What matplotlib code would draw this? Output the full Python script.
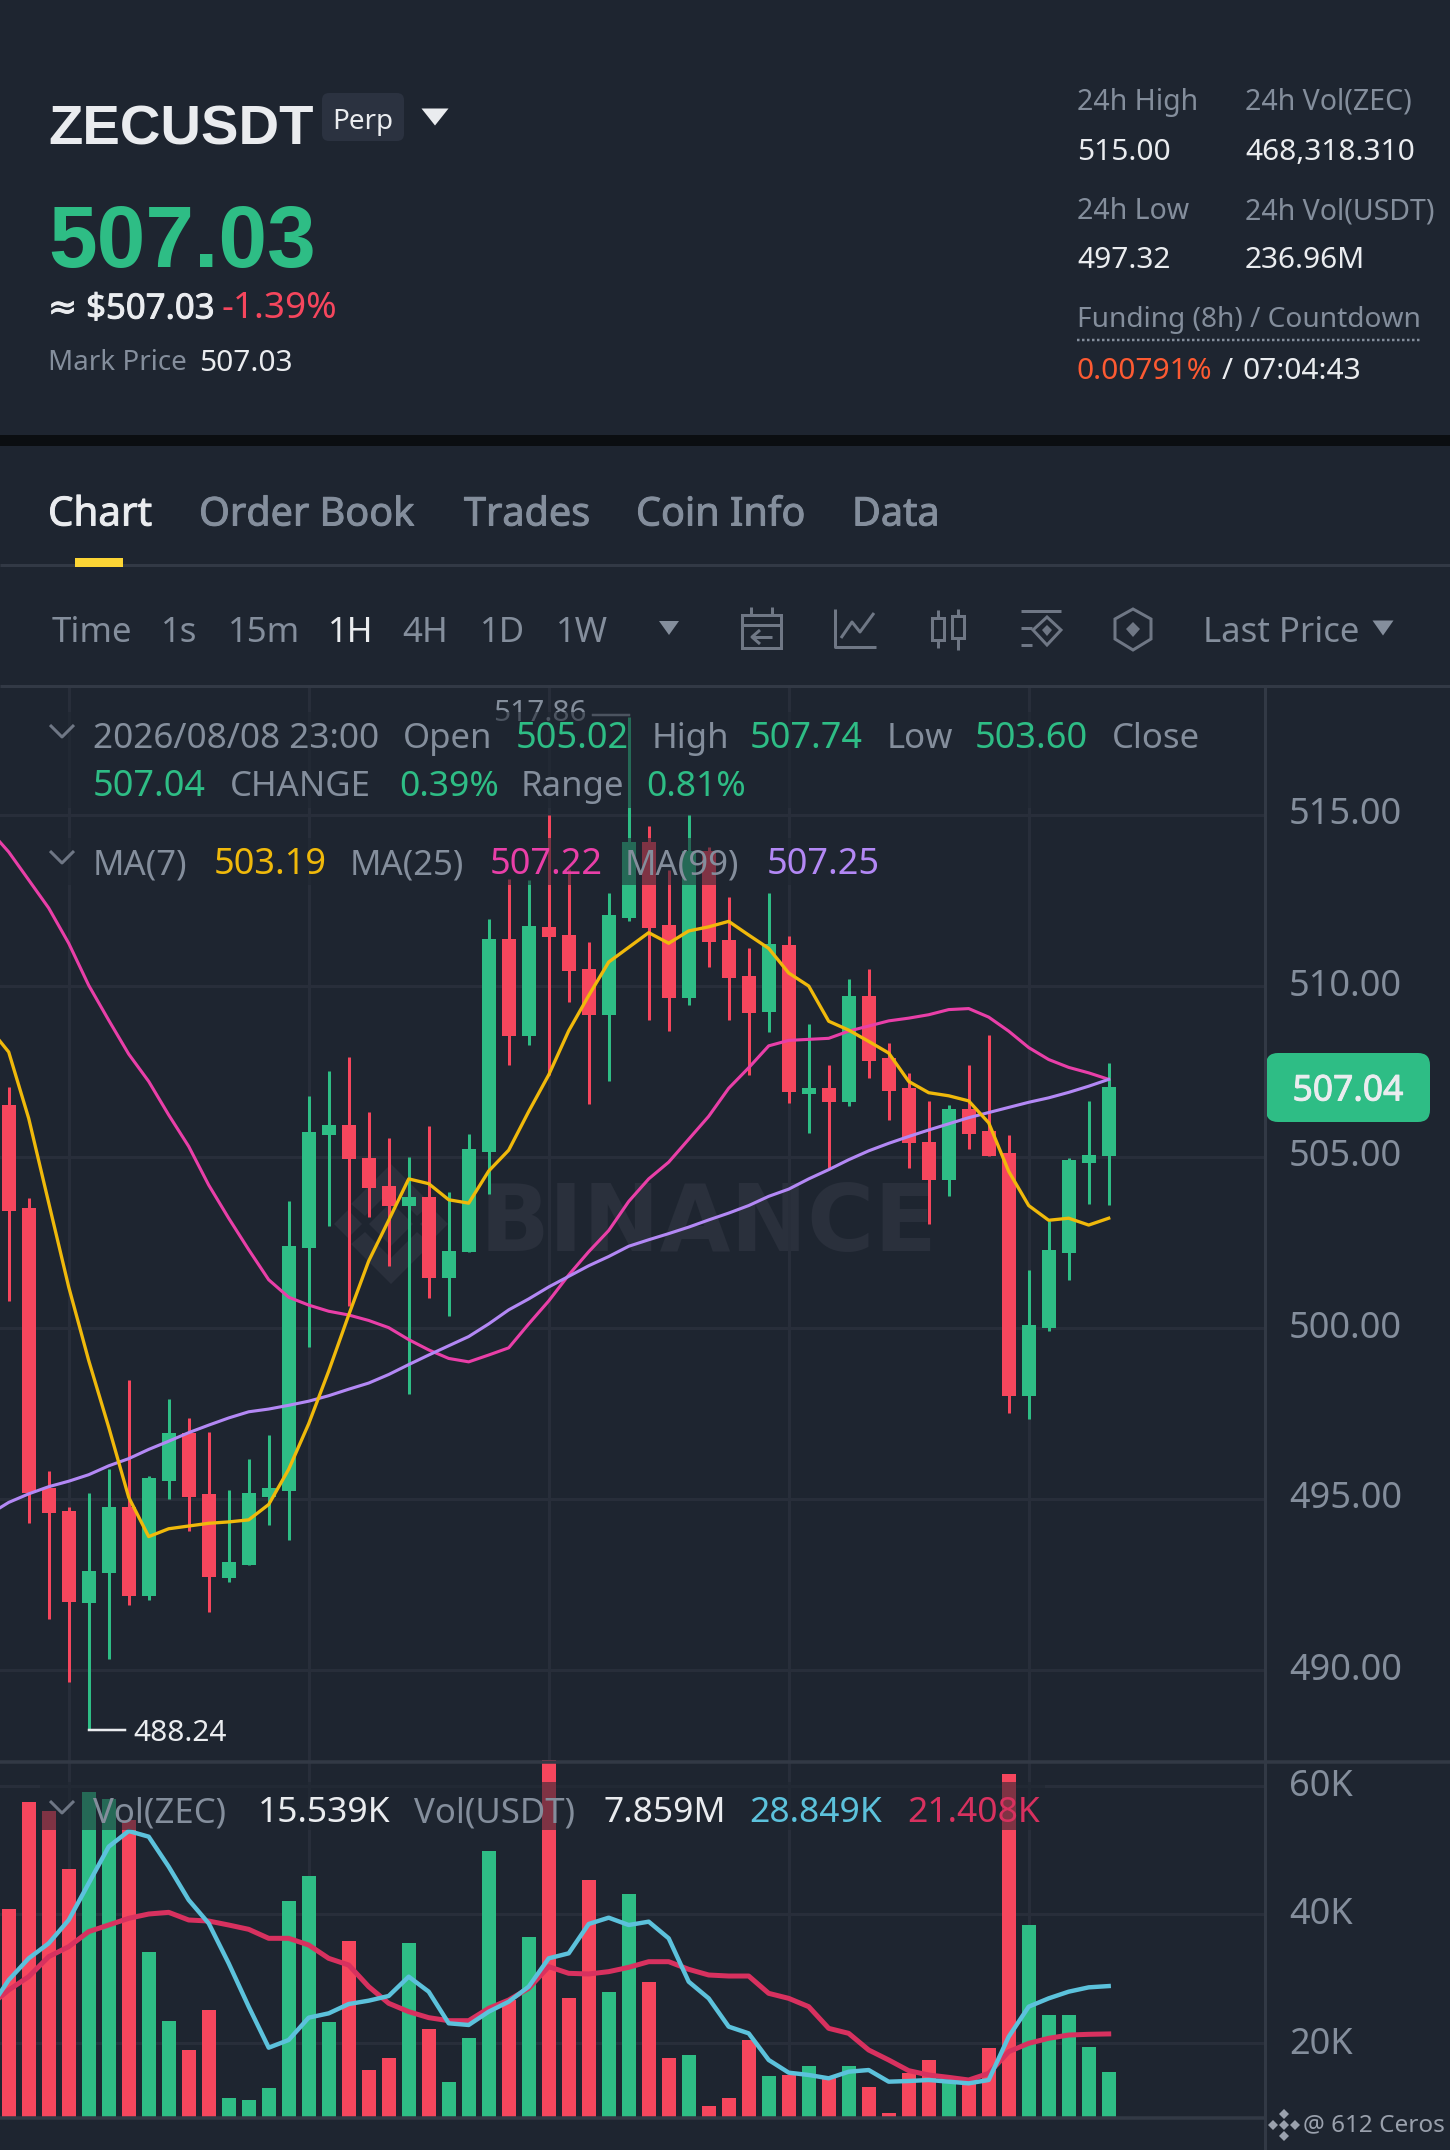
import numpy as np
import matplotlib
matplotlib.use("Agg")
import matplotlib.pyplot as plt
import matplotlib.patheffects as pe
from matplotlib.patches import Rectangle, FancyBboxPatch, Polygon

plt.rcParams['font.family'] = ['Noto Sans', 'DejaVu Sans']

# ---- data ----
opens = [506.52,503.50,495.32,494.64,491.97,492.83,494.78,492.16,495.52,496.92,495.15,492.69,493.08,495.07,
         495.23,502.33,505.63,505.94,504.98,504.16,503.58,503.83,501.45,502.21,505.16,511.36,508.53,511.73,
         511.50,510.50,509.16,511.99,514.20,511.79,509.65,513.95,511.35,510.30,509.24,511.20,506.85,507.01,
         506.62,509.71,507.89,507.01,505.45,504.34,506.41,505.76,505.12,498.00,500.00,502.18,504.83,505.02]
highs = [507.05,503.81,495.83,494.78,495.19,495.87,498.48,495.66,497.92,497.37,496.96,495.25,496.18,496.88,
         503.70,506.78,507.52,507.93,506.31,505.55,505.00,505.90,503.99,505.68,511.97,513.12,513.10,515.00,
         513.41,511.30,512.71,517.86,514.68,513.40,515.00,514.05,512.59,511.10,512.71,511.46,508.90,507.70,
         510.20,510.50,508.34,507.47,506.65,506.53,507.68,508.58,505.64,501.69,503.13,504.98,506.65,507.74]
lows = [500.79,494.29,491.50,489.65,488.24,490.31,491.91,492.04,494.99,494.05,491.71,492.57,493.08,494.25,
        493.80,499.44,502.99,500.63,503.24,501.82,498.06,500.87,500.36,502.21,503.91,507.69,508.28,507.40,
        509.53,506.54,507.22,511.89,509.01,508.68,509.43,510.55,509.01,507.40,508.65,506.58,505.71,504.67,
        506.50,507.30,506.09,504.69,503.04,503.85,505.24,505.04,497.52,497.33,499.91,501.40,503.63,503.60]
closes = [503.42,495.19,494.58,491.99,492.89,494.78,492.16,495.60,496.92,495.07,492.71,493.16,495.17,495.32,
          502.41,505.74,505.94,504.94,504.10,503.58,503.83,501.45,502.25,505.22,511.36,508.55,511.75,511.44,
          510.43,509.16,512.07,514.20,511.70,509.65,513.95,511.28,510.22,509.22,511.22,506.91,507.01,506.62,
          509.71,507.82,506.92,505.40,504.34,506.41,505.67,505.04,498.00,500.10,502.27,504.92,505.06,507.04]
# moving averages start one candle left of the visible window
ma7 = [508.79,508.07,506.13,503.66,501.20,499.05,497.10,495.05,493.90,494.13,494.21,494.29,494.33,494.39,494.84,
       495.87,497.20,498.74,500.38,501.96,503.15,504.36,504.22,503.75,503.65,504.59,505.20,506.33,507.40,508.69,
       509.72,510.70,511.13,511.56,511.25,511.61,511.73,511.89,511.49,511.10,510.38,510.00,508.97,508.71,508.38,
       508.04,507.21,506.88,506.79,506.64,506.00,504.58,503.58,503.15,503.21,503.01,503.21]
ma25 = [514.58,513.92,513.10,512.28,511.25,510.02,509.00,508.01,507.21,506.23,505.31,504.18,503.21,502.29,501.41,
        500.90,500.67,500.49,500.38,500.22,500.01,499.66,499.36,499.11,499.01,499.21,499.42,500.12,500.79,501.55,
        502.23,502.85,503.70,504.36,504.85,505.52,506.19,507.01,507.61,508.25,508.41,508.44,508.47,508.68,508.83,
        508.98,509.06,509.16,509.31,509.34,509.09,508.68,508.20,507.85,507.62,507.46,507.27]
ma99 = [494.54,494.90,495.15,495.36,495.52,495.71,495.97,496.18,496.45,496.69,496.94,497.16,497.37,497.55,497.63,
        497.74,497.86,498.02,498.21,498.39,498.64,498.93,499.21,499.48,499.75,500.12,500.53,500.85,501.20,501.51,
        501.82,502.09,502.39,502.58,502.76,502.95,503.16,503.36,503.58,503.85,504.06,504.36,504.63,504.92,505.18,
        505.40,505.60,505.79,505.97,506.15,506.30,506.45,506.60,506.73,506.89,507.07,507.27]
volumes = [40.78,57.46,56.06,47.05,58.96,57.93,54.66,34.09,23.47,18.91,25.13,11.45,11.09,13.00,42.12,45.96,23.21,
           35.85,15.75,17.62,35.54,22.12,13.94,20.78,49.84,26.68,36.42,64.00,26.94,45.28,27.88,43.11,29.43,17.67,
           18.08,10.26,11.40,20.47,14.87,15.03,16.37,14.51,16.48,13.11,9.07,15.39,17.36,13.99,14.51,19.17,61.76,
           38.34,24.35,24.35,19.43,15.54]
vol_ma_fast = [25.13,29.79,33.16,35.49,39.12,44.82,50.52,52.95,52.07,47.41,42.23,38.60,32.38,25.65,19.27,20.47,
               23.94,24.61,26.06,26.58,27.31,30.31,27.98,23.06,22.80,24.87,26.42,28.76,33.16,33.94,38.50,39.48,
               38.34,38.86,36.27,29.53,26.94,22.54,21.50,17.36,15.39,15.03,14.51,15.54,15.80,13.99,14.09,14.25,
               13.99,13.73,14.25,20.98,25.65,26.94,27.98,28.65,28.85]
vol_ma_slow = [25.65,28.24,30.31,33.42,34.97,37.31,38.34,39.38,40.05,40.31,39.12,38.96,38.34,37.67,36.27,36.27,
               35.23,33.16,32.12,28.76,26.17,24.87,23.94,23.47,23.47,25.39,26.68,28.50,31.87,30.83,30.73,31.09,
               31.76,32.64,32.64,31.45,30.57,30.41,30.41,27.72,26.94,25.65,22.28,21.50,18.91,17.36,15.70,15.03,
               14.66,14.25,15.28,18.65,19.95,20.73,21.24,21.35,21.41]
price_ticks = [515, 510, 505, 500, 495, 490]
price_tick_labels = ['515.00', '510.00', '505.00', '500.00', '495.00', '490.00']
vol_ticks = [60, 40, 20]
vol_tick_labels = ['60K', '40K', '20K']
time_grid = [3, 15, 27, 39, 51]

# ---- colours ----
BG = '#1e2530'; GRID = '#282e3a'; LINE = '#323945'; GREY = '#848e9c'; WHITE = '#eaecef'
UP = '#2ebd85'; DOWN = '#f6465d'; YEL = '#f0b90b'; PINK = '#e93fa8'; PUR = '#b388f5'
BLUE = '#5cc2dc'; CRIM = '#d8315f'; SOFT = '#9aa1ad'

W, H = 1450, 2150
fig = plt.figure(figsize=(W/100, H/100), dpi=100, facecolor=BG)
PX = 72/100
TEXT_DY = 3.5

def axes_px(l, t, r, b, **kw):
    return fig.add_axes([l/W, 1-b/H, (r-l)/W, (b-t)/H], **kw)

def x_of(px):
    return (px-8.7)/20

# ---- exchange watermark, behind every mark ----
wm = fig.add_axes([0, 0, 1, 1])
wm.set_xlim(0, W); wm.set_ylim(H, 0)
wm.patch.set_visible(False); wm.axis('off')
WM = '#2a303c'
wm.text(480, 1225, 'BINANCE', color=WM, fontsize=66, fontweight='bold', family='DejaVu Sans', va='center')
for cx, cy, r in [(391, 1224, 22), (348, 1224, 14), (434, 1224, 14)]:
    wm.add_patch(Polygon([[cx, cy-r], [cx+r, cy], [cx, cy+r], [cx-r, cy]], closed=True, fc=WM, ec='none'))
for sgn in (-1, 1):
    wm.add_patch(Polygon([[391, 1224+sgn*60], [431, 1224+sgn*20], [417, 1224+sgn*8], [391, 1224+sgn*34],
                          [365, 1224+sgn*8], [351, 1224+sgn*20]], closed=True, fc=WM, ec='none'))

# ---- price panel ----
ax = axes_px(0, 686, 1265, 1762)
ax.set_xlim(x_of(0), x_of(1265))
ax.set_ylim(515-(1762-815)/34.2, 515+(815-686)/34.2)
ax.patch.set_visible(False)
ax.axis('off')
idx = np.arange(len(opens))
ma_x = np.arange(-1, len(opens))
for p in price_ticks:
    ax.axhline(p, color=GRID, lw=3*PX, zorder=1)
for t in time_grid:
    ax.axvline(t, color=GRID, lw=3*PX, zorder=1)
o, h_, l_, c = map(np.array, (opens, highs, lows, closes))
cols = [UP if a >= b else DOWN for a, b in zip(c, o)]
ax.vlines(idx, l_, h_, colors=cols, lw=3*PX, zorder=3)
ax.bar(idx, np.abs(c-o), bottom=np.minimum(o, c), width=0.7, color=cols, zorder=3, linewidth=0)
ax.plot(ma_x, ma25, color=PINK, lw=3.1*PX, zorder=4)
ax.plot(ma_x, ma99, color=PUR, lw=3.1*PX, zorder=4)
ax.plot(ma_x, ma7, color=YEL, lw=3.3*PX, zorder=5)
imax = int(np.argmax(h_)); imin = int(np.argmin(l_))
ax.plot([imax-1.8, imax], [h_[imax]+0.05]*2, color=GREY, lw=2.5*PX, zorder=4)
ax.text(imax-2.1, h_[imax]+0.1, f'{h_[imax]:.2f}', color=GREY, ha='right', va='center', fontsize=21.5)
ax.plot([imin, imin+1.8], [l_[imin]]*2, color=WHITE, lw=2.5*PX, zorder=4)
ax.text(imin+2.25, l_[imin]-TEXT_DY/34.2, f'{l_[imin]:.2f}', color=WHITE, ha='left', va='center', fontsize=21.5)

# ---- volume panel ----
axv = axes_px(0, 1759, 1265, 2118)
axv.set_xlim(x_of(0), x_of(1265))
axv.set_ylim((1265-1104)/19.3, (1265-(1759-1750)*3)/19.3)
axv.patch.set_visible(False)
axv.axis('off')
for v in vol_ticks:
    axv.axhline(v, color=GRID, lw=3*PX, zorder=1)
for t in time_grid:
    axv.axvline(t, color=GRID, lw=3*PX, zorder=1)
axv.bar(idx, volumes, width=0.7, color=cols, zorder=3, linewidth=0)
axv.plot(ma_x, vol_ma_slow, color=CRIM, lw=5*PX, zorder=4)
axv.plot(ma_x, vol_ma_fast, color=BLUE, lw=4.4*PX, zorder=5)

# ---- pixel overlay for the interface ----
ov = fig.add_axes([0, 0, 1, 1])
ov.set_xlim(0, W); ov.set_ylim(H, 0)
ov.patch.set_visible(False); ov.axis('off')

def T(x, y, s, color=GREY, size=25, ha='left', weight='normal', **kw):
    t = ov.text(x, y+TEXT_DY, s, color=color, fontsize=size, ha=ha, va='center', **kw)
    if weight == 'medium':
        t.set_path_effects([pe.withStroke(linewidth=0.7, foreground=color)])
    elif weight == 'bold':
        t.set_fontfamily('Liberation Sans')
        t.set_fontweight('bold')
    return t

def L(xs, ys, color=GREY, lw=3, **kw):
    ov.plot(xs, ys, color=color, lw=lw*PX, solid_capstyle=kw.pop('cap', 'butt'), **kw)

def tri(cx, cy, w, h, color):
    ov.add_patch(Polygon([[cx-w/2, cy-h/2], [cx+w/2, cy-h/2], [cx, cy+h/2]], closed=True, fc=color, ec='none'))

def chev(cx, cy):
    L([cx-12, cx, cx+12], [cy-7, cy+5, cy-7], color='#6f7785', lw=3)

# dimming legend boxes
for (x0, y0, x1, y1) in [(40, 712, 1215, 808), (40, 838, 885, 885), (40, 1782, 1045, 1830)]:
    ov.add_patch(Rectangle((x0, y0), x1-x0, y1-y0, fc=BG, ec='none', alpha=0.55, zorder=1))

# separators
ov.add_patch(Rectangle((0, 435), W, 11, fc='#0b0e11', ec='none'))
L([0, W], [565, 565], color=LINE)
L([0, W], [686, 686], color=LINE)
L([1265, 1265], [686, H], color=LINE)
L([0, W], [1762, 1762], color=LINE, lw=3.5)
L([0, 1265], [2118, 2118], color=LINE, lw=3.5)
ov.add_patch(Rectangle((75, 558), 48, 9, fc='#fcd535', ec='none', zorder=3))

# header
T(48, 127, 'ZECUSDT', WHITE, 40.5, weight='bold')
ov.add_patch(FancyBboxPatch((326, 97), 74, 40, boxstyle='round,pad=4,rounding_size=7', fc='#2b3240', ec='none'))
T(363, 118, 'Perp', WHITE, 20, ha='center')
tri(435, 117, 27, 17, WHITE)
T(48, 241, '507.03', UP, 63, weight='bold')
T(48, 306, '≈ $507.03', WHITE, 25, weight='medium')
T(222, 306, '-1.39%', DOWN, 26.5)
T(48, 360, 'Mark Price', GREY, 20)
T(199, 360, '507.03', WHITE, 21.5)
T(1077, 99, '24h High', GREY, 20.5)
T(1245, 99, '24h Vol(ZEC)', GREY, 20.5)
T(1077, 149, '515.00', WHITE, 21.5)
T(1245, 149, '468,318.310', WHITE, 21.5)
T(1077, 208, '24h Low', GREY, 20.5)
T(1245, 208, '24h Vol(USDT)', GREY, 20.5)
T(1077, 257, '497.32', WHITE, 21.5)
T(1245, 257, '236.96M', WHITE, 21.5)
T(1077, 316, 'Funding (8h) / Countdown', GREY, 20.2)
ov.plot([1077, 1422], [340, 340], color=GREY, lw=2.5*PX, dashes=(1, 1))
T(1077, 368, '0.00791%', '#fc5a32', 21.5)
T(1222, 368, '/', WHITE, 21.5)
T(1243, 368, '07:04:43', WHITE, 21.5)

# tabs
T(48, 512, 'Chart', WHITE, 29, weight='medium')
for x, s in zip([199, 464, 636, 852], ['Order Book', 'Trades', 'Coin Info', 'Data']):
    T(x, 512, s, GREY, 28.5, weight='medium')

# toolbar
for x, s, col in zip([52, 161, 228, 328, 402, 480, 556],
                     ['Time', '1s', '15m', '1H', '4H', '1D', '1W'],
                     [GREY, GREY, GREY, WHITE, GREY, GREY, GREY]):
    T(x, 630, s, col, 25)
tri(669, 628, 20, 14, GREY)
T(1203, 630, 'Last Price', GREY, 25)
tri(1383, 628, 21, 15, GREY)
IC = '#6f7785'
ov.add_patch(Rectangle((742, 615), 39, 33, fc='none', ec=IC, lw=3*PX))
L([742, 781], [625, 625], IC); L([751, 751], [607, 615], IC); L([772, 772], [607, 615], IC)
L([752, 772], [637, 637], IC); L([760, 752, 760], [630, 637, 644], IC)
L([835, 835, 876], [609, 647, 647], IC); L([841, 852, 860, 874], [638, 622, 632, 613], IC)
for cx, y0, y1, a, b in [(938, 618, 640, 610, 648), (958, 616, 638, 609, 650)]:
    ov.add_patch(Rectangle((cx-6, y0), 12, y1-y0, fc='none', ec=IC, lw=3*PX))
    L([cx, cx], [a, y0], IC); L([cx, cx], [y1, b], IC)
L([1021, 1061], [611, 611], IC); L([1021, 1032], [628, 628], IC); L([1021, 1032], [645, 645], IC)
ov.add_patch(Polygon([[1047, 617], [1061, 630], [1047, 645], [1033, 630]], closed=True, fc='none', ec=IC, lw=3*PX))
ov.add_patch(Polygon([[1047, 625], [1052, 630], [1047, 636], [1042, 630]], closed=True, fc=IC, ec='none'))
ov.add_patch(Polygon([[1133, 609], [1151, 619], [1151, 639], [1133, 650], [1115, 639], [1115, 619]], closed=True, fc='none', ec=IC, lw=3*PX))
ov.add_patch(Polygon([[1133, 622], [1140, 629], [1133, 637], [1126, 629]], closed=True, fc=IC, ec='none'))

# legends
chev(62, 732)
for x, s, col, sz in [(93, '2026/08/08 23:00', GREY, 25.3), (403, 'Open', GREY, 25), (516, '505.02', UP, 26),
                      (652, 'High', GREY, 25), (750, '507.74', UP, 26), (887, 'Low', GREY, 25),
                      (975, '503.60', UP, 26), (1112, 'Close', GREY, 25)]:
    T(x, 736, s, col, sz)
for x, s, col, sz in [(93, '507.04', UP, 26), (230, 'CHANGE', GREY, 25), (399, '0.39%', UP, 25.5),
                      (521, 'Range', GREY, 25), (646, '0.81%', UP, 25.5)]:
    T(x, 784, s, col, sz)
chev(62, 858)
for x, s, col, sz in [(93, 'MA(7)', GREY, 25), (214, '503.19', YEL, 26), (350, 'MA(25)', GREY, 25),
                      (490, '507.22', PINK, 26), (625, 'MA(99)', GREY, 25), (767, '507.25', PUR, 26)]:
    T(x, 862, s, col, sz)
chev(62, 1808)
for x, s, col, sz in [(93, 'Vol(ZEC)', GREY, 25), (258, '15.539K', WHITE, 25.5), (414, 'Vol(USDT)', GREY, 25),
                      (604, '7.859M', WHITE, 25.5), (749, '28.849K', BLUE, 25.5), (907, '21.408K', CRIM, 25.5)]:
    T(x, 1810, s, col, sz)

# axis labels
y_of_price = lambda p: 815+(515-p)*34.2
for p, s in zip(price_ticks, price_tick_labels):
    T(1289, y_of_price(p)-3, s, GREY, 26)
for y, s in zip([1783, 1912, 2041], vol_tick_labels):
    T(1289, y, s, GREY, 26)

# last price tag
ov.add_patch(FancyBboxPatch((1274, 1061), 148, 53, boxstyle='round,pad=8,rounding_size=12', fc=UP, ec='none'))
T(1348, 1088, '507.04', WHITE, 25.5, ha='center', weight='medium')

# signature
for cx, cy, r in [(1284, 2125, 5), (1273, 2125, 5), (1295, 2125, 5), (1284, 2114, 5), (1284, 2136, 5)]:
    ov.add_patch(Polygon([[cx, cy-r], [cx+r, cy], [cx, cy+r], [cx-r, cy]], closed=True, fc=SOFT, ec='none'))
T(1303, 2122, '@ 612 Ceros', SOFT, 17.5)

fig.savefig('out.png', dpi=100, facecolor=BG)
